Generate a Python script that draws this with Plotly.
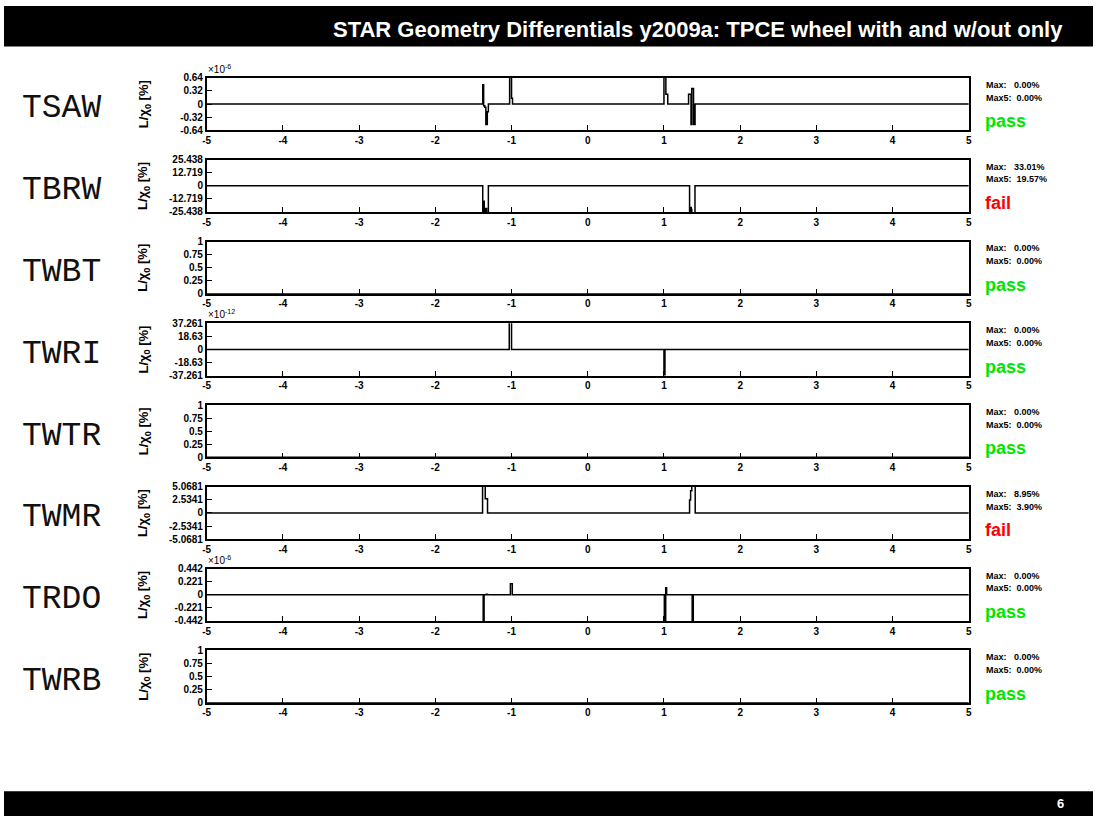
import plotly.graph_objects as go

W, H = 1096, 822

# ---------------- data ----------------
panel_names = ["TSAW", "TBRW", "TWBT", "TWRI", "TWTR", "TWMR", "TRDO", "TWRB"]
max_text = ["0.00%", "33.01%", "0.00%", "0.00%", "0.00%", "8.95%", "0.00%", "0.00%"]
max5_text = ["0.00%", "19.57%", "0.00%", "0.00%", "0.00%", "3.90%", "0.00%", "0.00%"]
status = ["pass", "fail", "pass", "pass", "pass", "fail", "pass", "pass"]
exponents = ["-6", "", "", "-12", "", "", "-6", ""]

y_ticks = [
    [-0.64, -0.32, 0, 0.32, 0.64],
    [-25.438, -12.719, 0, 12.719, 25.438],
    [0, 0.25, 0.5, 0.75, 1],
    [-37.261, -18.63, 0, 18.63, 37.261],
    [0, 0.25, 0.5, 0.75, 1],
    [-5.0681, -2.5341, 0, 2.5341, 5.0681],
    [-0.442, -0.221, 0, 0.221, 0.442],
    [0, 0.25, 0.5, 0.75, 1],
]
y_tick_labels = [
    ["-0.64", "-0.32", "0", "0.32", "0.64"],
    ["-25.438", "-12.719", "0", "12.719", "25.438"],
    ["0", "0.25", "0.5", "0.75", "1"],
    ["-37.261", "-18.63", "0", "18.63", "37.261"],
    ["0", "0.25", "0.5", "0.75", "1"],
    ["-5.0681", "-2.5341", "0", "2.5341", "5.0681"],
    ["-0.442", "-0.221", "0", "0.221", "0.442"],
    ["0", "0.25", "0.5", "0.75", "1"],
]
x_ticks = [-5, -4, -3, -2, -1, 0, 1, 2, 3, 4, 5]

# histogram bin edges and contents (step histograms)
TSAW_edges = [-5, -1.378, -1.366, -1.351, -1.337, -1.318, -1.304, -1.025, -1.0, -0.987,
              1.0, 1.025, 1.05, 1.323, 1.355, 1.365, 1.388, 1.408, 5]
TSAW_vals = [0, 0.47, -0.04, -0.08, -0.5, -0.19, 0, 1.5, 0.14, 0,
             1.5, 0.24, 0, 0.24, -0.5, 0.38, -0.5, 0]

TBRW_edges = [-5, -1.378, -1.366, -1.358, -1.346, -1.327, -1.304,
              1.336, 1.35, 1.358, 1.365, 1.407, 5]
TBRW_vals = [0, -33.0, -15.0, -33.0, -22.0, -33.0, 0,
             -33.0, -21.0, -23.0, -33.0, 0]

TWBT_edges = [-5, 5]
TWBT_vals = [0]

TWRI_edges = [-5, -1.03, -1.0, 1.0, 1.013, 5]
TWRI_vals = [0, 80.0, 0, -80.0, 0]

TWTR_edges = [-5, 5]
TWTR_vals = [0]

TWMR_edges = [-5, -1.38, -1.345, -1.315, 1.336, 1.35, 1.365, 1.41, 5]
TWMR_vals = [0, 8.95, 2.76, 0, 2.5, 4.3, 8.95, 0]

TRDO_edges = [-5, -1.372, -1.36, -1.33, -1.315, -1.015, -0.99,
              1.005, 1.023, 1.035, 1.37, 1.385, 5]
TRDO_vals = [0, -1.0, 0, 0.01, 0, 0.185, 0,
             -1.0, 0.12, 0, -1.0, 0]

TWRB_edges = [-5, 5]
TWRB_vals = [0]

hist_edges = [TSAW_edges, TBRW_edges, TWBT_edges, TWRI_edges,
              TWTR_edges, TWMR_edges, TRDO_edges, TWRB_edges]
hist_vals = [TSAW_vals, TBRW_vals, TWBT_vals, TWRI_vals,
             TWTR_vals, TWMR_vals, TRDO_vals, TWRB_vals]

# ---------------- layout helpers ----------------
def px(x):
    return x / W


def py(y):
    return 1 - y / H


FRAME_L, FRAME_R = 204, 971
TOP0, STEP, PH = 73, 83, 53
FONT = "Liberation Sans, Arial, Helvetica, sans-serif"

fig = go.Figure()
annotations = []
shapes = []
layout = {}

for i, name in enumerate(panel_names):
    k = "" if i == 0 else str(i + 1)
    top = TOP0 + STEP * i
    bot = top + PH
    yt = y_ticks[i]
    e = hist_edges[i]
    v = hist_vals[i]
    fig.add_trace(go.Scatter(
        x=e, y=v + [v[-1]], mode="lines", line=dict(color="black", width=1.5, shape="hv"),
        xaxis="x" + k, yaxis="y" + k, showlegend=False, hoverinfo="skip"))
    layout["xaxis" + k] = dict(
        domain=[px(FRAME_L), px(FRAME_R)], range=[-5, 5], anchor="y" + k,
        tickvals=x_ticks, ticktext=[str(t) for t in x_ticks],
        ticks="inside", ticklen=5, tickwidth=1.2, tickcolor="black",
        showline=True, mirror=True, linecolor="black", linewidth=1.5,
        showgrid=False, zeroline=False, fixedrange=True,
        tickfont=dict(family=FONT, size=10, color="black", weight="bold"))
    layout["yaxis" + k] = dict(
        domain=[py(bot), py(top)], range=[yt[0], yt[-1]], anchor="x" + k,
        tickvals=yt, ticktext=y_tick_labels[i],
        ticks="inside", ticklen=6, tickwidth=1.2, tickcolor="black",
        showline=True, mirror=True, linecolor="black", linewidth=1.5,
        showgrid=False, zeroline=False, fixedrange=True,
        tickfont=dict(family=FONT, size=10, color="black", weight="bold"))

    mid = (top + bot) / 2
    # detector name
    annotations.append(dict(
        text=name, x=px(16), y=py(mid + 5), xref="paper", yref="paper",
        xanchor="left", yanchor="middle", showarrow=False,
        font=dict(family="Liberation Mono, Courier New, monospace", size=33, color="#111111")))
    # y axis title
    annotations.append(dict(
        text="L/χ<sub>0</sub> [%]", x=px(141), y=py(mid), xref="paper", yref="paper",
        xanchor="center", yanchor="middle", textangle=-90, showarrow=False,
        font=dict(family=FONT, size=13, color="black", weight="bold")))
    # exponent
    if exponents[i]:
        annotations.append(dict(
            text="×10<sup>" + exponents[i] + "</sup>", x=px(203), y=py(top - 1),
            xref="paper", yref="paper", xanchor="left", yanchor="bottom", showarrow=False,
            font=dict(family=FONT, size=10, color="black")))
    # max texts
    annotations.append(dict(
        text="Max:\u00a0\u00a0\u00a0" + max_text[i], x=px(986), y=py(top + 7),
        xref="paper", yref="paper", xanchor="left", yanchor="middle", showarrow=False,
        font=dict(family=FONT, size=9, color="black", weight="bold")))
    annotations.append(dict(
        text="Max5:\u00a0\u00a0" + max5_text[i], x=px(986), y=py(top + 20),
        xref="paper", yref="paper", xanchor="left", yanchor="middle", showarrow=False,
        font=dict(family=FONT, size=9, color="black", weight="bold")))
    annotations.append(dict(
        text=status[i], x=px(985), y=py(top + 44),
        xref="paper", yref="paper", xanchor="left", yanchor="middle", showarrow=False,
        font=dict(family=FONT, size=18, weight="bold",
                  color="#00e600" if status[i] == "pass" else "#ff0000")))

# title and footer bars
shapes.append(dict(type="rect", xref="paper", yref="paper", x0=0, x1=1, y0=py(41), y1=1,
                   fillcolor="black", line=dict(width=0), layer="below"))
shapes.append(dict(type="rect", xref="paper", yref="paper", x0=0, x1=1, y0=0, y1=py(797),
                   fillcolor="black", line=dict(width=0), layer="below"))
annotations.append(dict(
    text="STAR Geometry Differentials y2009a: TPCE wheel with and w/out only",
    x=px(1068), y=py(24), xref="paper", yref="paper", xanchor="right", yanchor="middle",
    showarrow=False, font=dict(family=FONT, size=22, color="white", weight="bold")))
annotations.append(dict(
    text="6", x=px(1069), y=py(809), xref="paper", yref="paper", xanchor="right",
    yanchor="middle", showarrow=False,
    font=dict(family=FONT, size=13, color="white", weight="bold")))

fig.update_layout(
    width=W, height=H, autosize=False,
    margin=dict(l=0, r=0, t=0, b=0),
    paper_bgcolor="white", plot_bgcolor="white",
    annotations=annotations, shapes=shapes, **layout)

POST = (
    "var s=document.createElement('style');"
    "s.textContent='html,body{margin:0!important;padding:0!important;overflow:hidden!important;"
    "width:1096px;height:822px;}';"
    "document.head.appendChild(s);"
    "var d=document.querySelectorAll('.plotly-graph-div');"
    "for(var j=0;j<d.length;j++){d[j].style.position='fixed';d[j].style.left='0px';"
    "d[j].style.top='0px';d[j].style.margin='0px';}"
)

fig.write_html("out.html", config={"displayModeBar": False}, post_script=POST)
